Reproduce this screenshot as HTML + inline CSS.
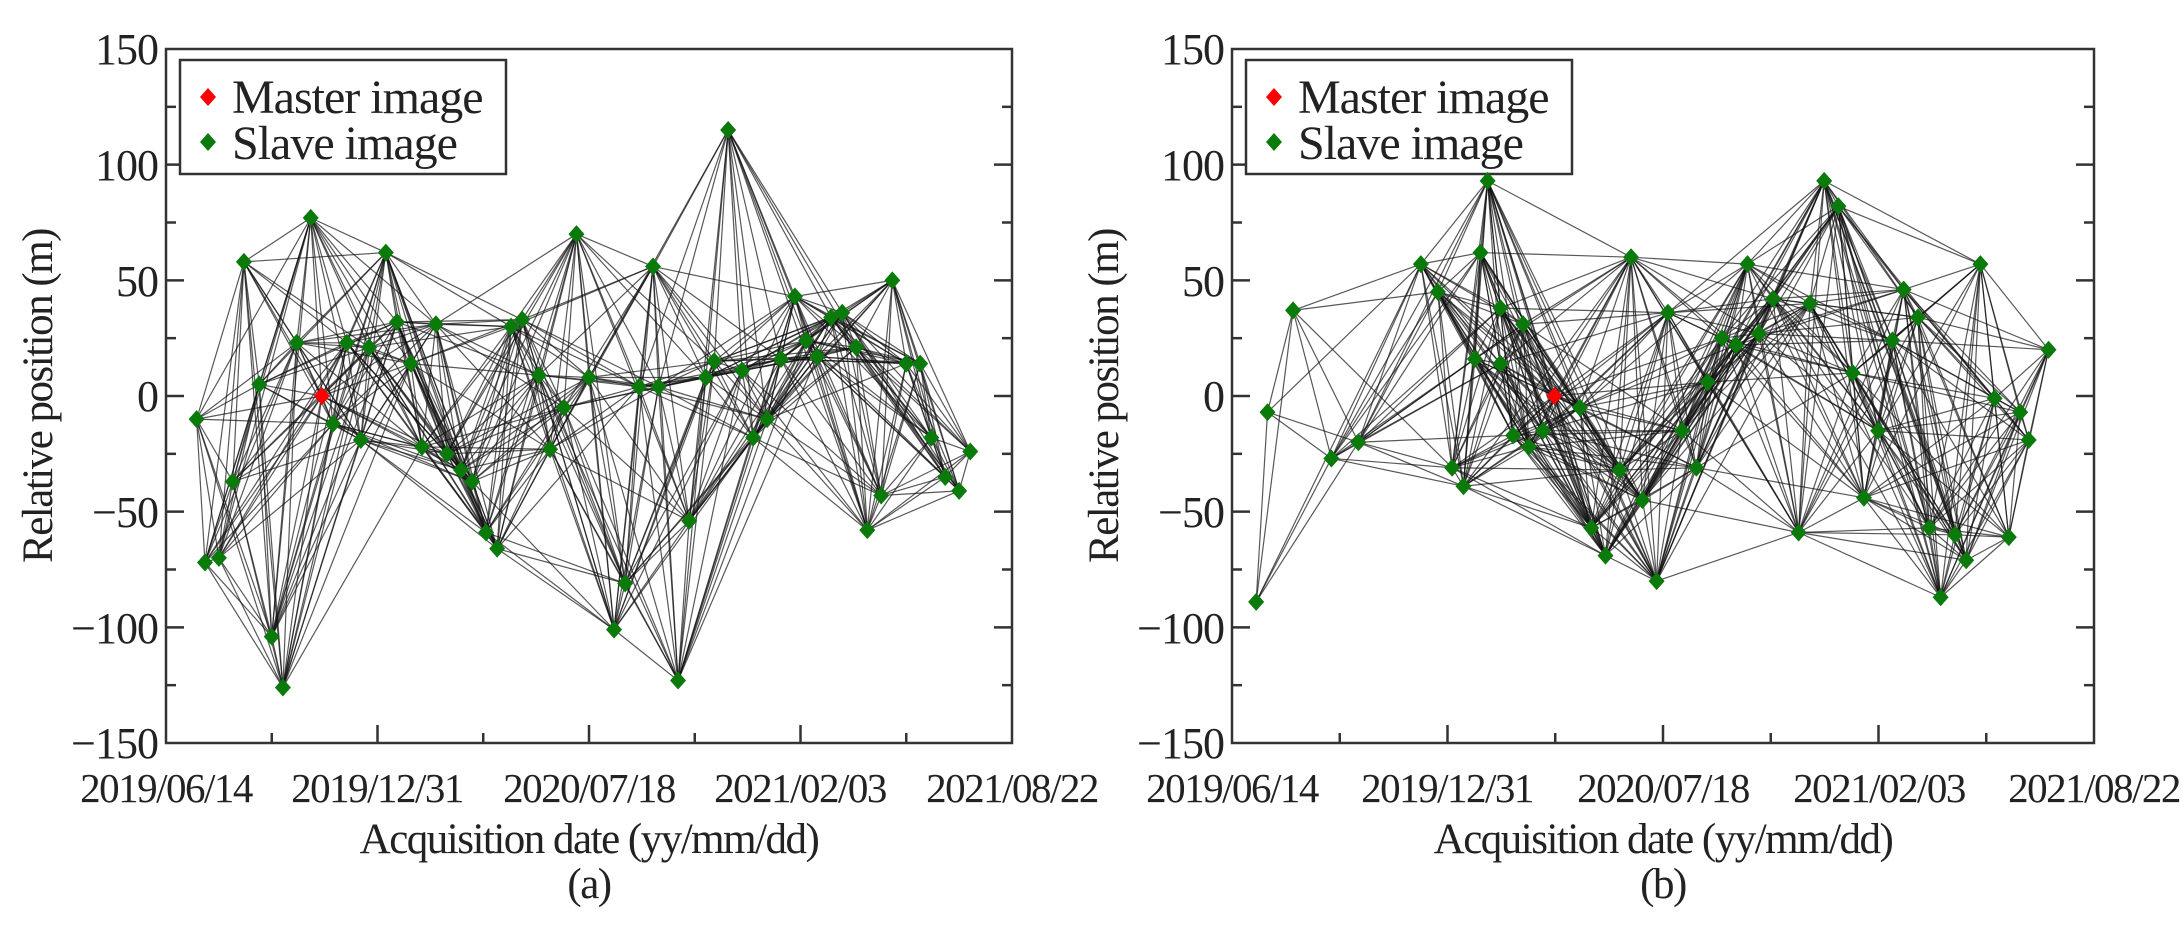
<!DOCTYPE html>
<html><head><meta charset="utf-8">
<style>
html,body{margin:0;padding:0;background:#fff;}
svg{display:block;}
svg text{font-family:"Liberation Serif","Times New Roman",serif !important;fill:#222;}
</style></head>
<body>
<svg id="s" width="2182" height="926" viewBox="0 0 2182 926" xmlns="http://www.w3.org/2000/svg" font-family="Liberation Serif, serif">
<g id="net"></g>
<rect x="166" y="49" width="846" height="694" fill="none" stroke="#333" stroke-width="2.5"/>
<rect x="1232" y="49" width="862" height="694" fill="none" stroke="#333" stroke-width="2.5"/>
<g id="ticks" stroke="#333" stroke-width="2.5"></g>
<g font-size="44" text-anchor="end" font-family="Liberation Serif, serif" letter-spacing="-1">
<text x="158" y="64">150</text><text x="158" y="180">100</text><text x="158" y="296">50</text>
<text x="158" y="411">0</text><text x="158" y="527">−50</text><text x="158" y="643">−100</text><text x="158" y="758">−150</text>
<text x="1224" y="64">150</text><text x="1224" y="180">100</text><text x="1224" y="296">50</text>
<text x="1224" y="411">0</text><text x="1224" y="527">−50</text><text x="1224" y="643">−100</text><text x="1224" y="758">−150</text>
</g>
<g font-size="41" text-anchor="middle" letter-spacing="-1.5" font-family="Liberation Serif, serif">
<text x="166" y="802">2019/06/14</text><text x="377" y="802">2019/12/31</text><text x="589" y="802">2020/07/18</text><text x="800" y="802">2021/02/03</text><text x="1012" y="802">2021/08/22</text>
<text x="1232" y="802">2019/06/14</text><text x="1447" y="802">2019/12/31</text><text x="1663" y="802">2020/07/18</text><text x="1879" y="802">2021/02/03</text><text x="2094" y="802">2021/08/22</text>
</g>
<g font-size="43" text-anchor="middle" letter-spacing="-1.5" font-family="Liberation Serif, serif">
<text x="589" y="853">Acquisition date (yy/mm/dd)</text>
<text x="1663" y="853">Acquisition date (yy/mm/dd)</text>
<text x="589" y="898">(a)</text>
<text x="1663" y="898">(b)</text>
<text transform="translate(52,396) rotate(-90)">Relative position (m)</text>
<text transform="translate(1118,396) rotate(-90)">Relative position (m)</text>
</g>
<rect x="180" y="60" width="326" height="114" fill="#fff" stroke="#333" stroke-width="2.5"/>
<rect x="1246" y="60" width="326" height="114" fill="#fff" stroke="#333" stroke-width="2.5"/>
<g font-size="48" letter-spacing="-1" font-family="Liberation Serif, serif">
<text x="232" y="113">Master image</text><text x="232" y="159">Slave image</text>
<text x="1298" y="113">Master image</text><text x="1298" y="159">Slave image</text>
</g>
<polygon points="208,88 216,97 208,106 200,97" fill="#f00"/>
<polygon points="208,133 216,142 208,151 200,142" fill="#0a7a0a"/>
<polygon points="1274,88 1282,97 1274,106 1266,97" fill="#f00"/>
<polygon points="1274,133 1282,142 1274,151 1266,142" fill="#0a7a0a"/>
<g id="mk"></g>
</svg>
<script>
const NS="http://www.w3.org/2000/svg";
function el(p,t,a){const e=document.createElementNS(NS,t);for(const k in a)e.setAttribute(k,a[k]);p.appendChild(e);return e;}
const net=document.getElementById('net'),mk=document.getElementById('mk'),tk=document.getElementById('ticks');
function Y(v){return 396-v*694/300;}
function dia(x,y,c){el(mk,'polygon',{points:`${x},${y-9} ${x+8},${y} ${x},${y+9} ${x-8},${y}`,fill:c});}
[[166,1012],[1232,2094]].forEach(([a,b])=>{
 const w=(b-a)/8;
 for(let i=1;i<8;i++){const x=a+i*w,l=i%2?10:18;el(tk,'line',{x1:x,y1:743,x2:x,y2:743-l});}
 for(let i=1;i<12;i++){const y=49+i*694/12,l=i%2?10:18;el(tk,'line',{x1:a,y1:y,x2:a+l,y2:y});el(tk,'line',{x1:b,y1:y,x2:b-l,y2:y});}
});
const L=[[142,-10],[148,-72],[158,-70],[168,-37],[176,58],[187,5],[196,-104],[204,-126],[214,23],[224,77],[240,-12],[250,23],[260,-19],[266,21],[278,62],[286,32],[296,14],[304,-22],[314,31],[322,-25],[332,-32],[340,-37],[350,-59],[358,-66],[368,30],[376,33],[388,9],[396,-23],[406,-5],[415,70],[424,8],[442,-101],[450,-81],[460,4],[470,56],[474,4],[488,-123],[496,-54],[508,8],[514,15],[524,115],[534,11],[542,-18],[552,-10],[562,16],[572,43],[580,24],[588,17],[598,34],[606,36],[616,21],[624,-58],[634,-43],[642,50],[652,14],[662,14],[670,-18],[680,-35],[690,-41],[698,-24]];
const R=[[902,-89],[910,-7],[928,37],[955,-27],[974,-20],[1018,57],[1030,45],[1040,-31],[1048,-39],[1056,16],[1060,62],[1065,93],[1074,38],[1074,14],[1083,-17],[1090,31],[1094,-22],[1104,-15],[1130,-5],[1138,-57],[1148,-69],[1158,-32],[1166,60],[1174,-45],[1184,-80],[1192,36],[1202,-15],[1212,-31],[1220,6],[1230,25],[1240,22],[1248,57],[1256,27],[1266,42],[1284,-59],[1292,40],[1302,93],[1312,82],[1322,10],[1330,-44],[1340,-15],[1350,24],[1358,46],[1368,34],[1376,-57],[1384,-87],[1394,-60],[1402,-71],[1412,57],[1422,-1],[1432,-61],[1440,-7],[1446,-19],[1460,20]];
function draw(pts,master,fx,thr){
 const P=pts.map(p=>[fx(p[0]),Y(p[1]),p[0],p[1]]);P.push([fx(master[0]),Y(0),master[0],0]);
 for(let i=0;i<P.length;i++)for(let j=i+1;j<P.length;j++){
  const dx=Math.abs(P[i][2]-P[j][2]),dy=Math.abs(P[i][3]-P[j][3]);
  if(dx<thr&&dy<190&&dx>0.5) el(net,'line',{x1:P[i][0],y1:P[i][1],x2:P[j][0],y2:P[j][1],stroke:'#111','stroke-width':1.2,'stroke-opacity':0.7});
 }
 P.slice(0,-1).forEach(p=>dia(p[0],p[1],'#0a7a0a'));
 const m=P[P.length-1];dia(m[0],m[1],'#f00');
}
draw(L,[232],x=>166+(x-120)*846/608,105);
draw(R,[1112],x=>1232+(x-885)*862/607,120);
</script>
</body></html>
